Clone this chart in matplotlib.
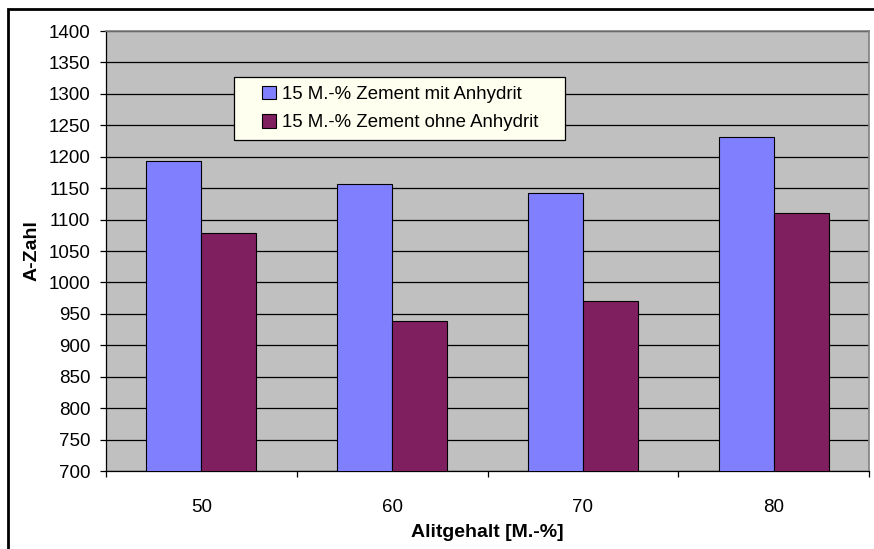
import numpy as np
import matplotlib
matplotlib.use('Agg')
import matplotlib.pyplot as plt
from matplotlib.patches import Rectangle

plt.rcParams['font.family'] = ['Liberation Sans', 'DejaVu Sans']

# Alitgehalt in M.-% und A-Zahl je Mischung
alit = ['50', '60', '70', '80']
mit_anhydrit = [1193, 1156, 1143, 1231]
ohne_anhydrit = [1079, 939, 970, 1111]
labels = ['15 M.-% Zement mit Anhydrit', '15 M.-% Zement ohne Anhydrit']

W, H = 874, 549
fig = plt.figure(figsize=(W/100, H/100), dpi=100)
# Plotfläche in Pixeln: links 106, rechts 869, oben 31, unten 471
ax = fig.add_axes([106/W, 1 - 471/H, (869-106)/W, (471-31)/H])

x = np.arange(len(alit))
w = 0.288
ax.bar(x - w/2, mit_anhydrit, w, color='#8080FF', edgecolor='black',
       linewidth=0.8, label=labels[0], zorder=3)
ax.bar(x + w/2, ohne_anhydrit, w, color='#7F1F5F', edgecolor='black',
       linewidth=0.8, label=labels[1], zorder=3)

ax.set_facecolor('#C0C0C0')
ax.set_xlim(-0.5, 3.5)
ax.set_ylim(700, 1400)
ax.set_yticks(np.arange(700, 1401, 50))
ax.yaxis.grid(True, color='black', linewidth=0.9, zorder=1)
ax.set_axisbelow(True)

ax.set_xticks(x)
ax.set_xticklabels(alit)
ax.set_xticks(np.arange(-0.5, 3.6, 1), minor=True)
ax.tick_params(axis='x', which='major', length=0, pad=20, labelsize=13.5)
ax.tick_params(axis='x', which='minor', length=4.3, width=0.9, direction='out')
ax.tick_params(axis='y', length=4.3, width=0.9, direction='out', labelsize=13.5, pad=7)

for s in ['top', 'right']:
    ax.spines[s].set_color('#808080')
    ax.spines[s].set_linewidth(1.2)
ax.spines['left'].set_linewidth(0.9)
ax.spines['bottom'].set_linewidth(0.9)

ax.set_ylabel('A-Zahl', fontsize=14, fontweight='bold', labelpad=6)
ax.set_xlabel('Alitgehalt [M.-%]', fontsize=14, fontweight='bold', labelpad=6)

# Legendenkasten (breiter als der Inhalt, wie in Excel)
def px_to_ax(px, py):
    return (px - 106) / (869 - 106), (471 - py) / (471 - 31)

x0, y0 = px_to_ax(234, 140)
x1, y1 = px_to_ax(565, 77)
ax.add_patch(Rectangle((x0, y0), x1 - x0, y1 - y0, transform=ax.transAxes,
                       facecolor='#FFFFF0', edgecolor='black', linewidth=0.9, zorder=4))

lx, ly = px_to_ax(262, 108.5)
leg = ax.legend(loc='center left', bbox_to_anchor=(lx, ly), frameon=False,
                fontsize=13.4, handlelength=0.75, handleheight=0.75,
                handletextpad=0.3, borderpad=0, labelspacing=0.6, borderaxespad=0)
leg.set_zorder(5)

# Rahmen um das gesamte Diagramm
fig.patches.append(Rectangle((8/W, -0.02), 1.0, 1 - 9/H + 0.02, transform=fig.transFigure,
                             fill=False, edgecolor='black', linewidth=2))

fig.savefig('out.png', dpi=100, facecolor='white')
